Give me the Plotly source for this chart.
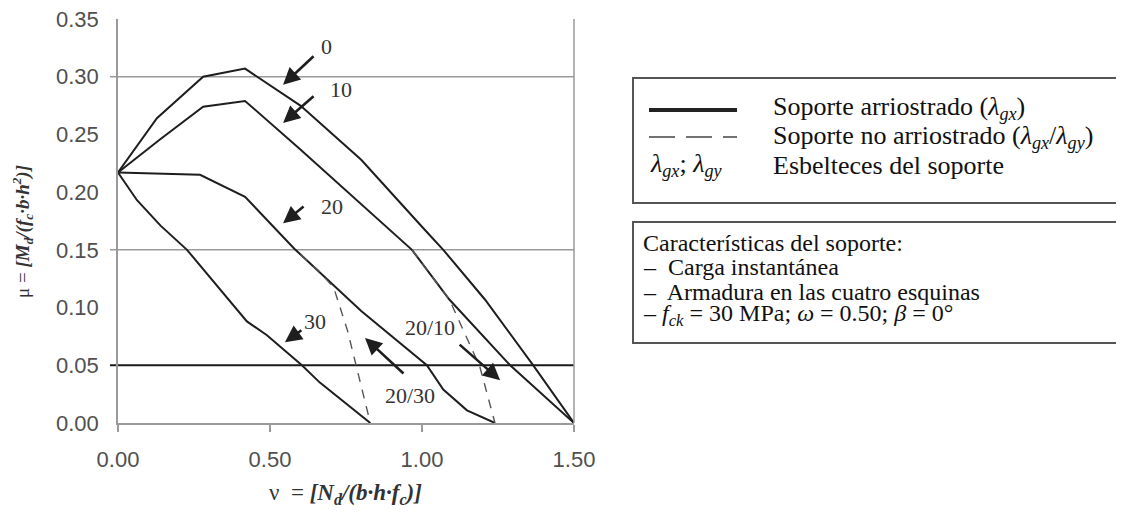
import plotly.graph_objects as go

# ---------------- data ----------------
x_lam0 = [0.0, 0.128, 0.28, 0.418, 0.6, 0.8, 1.0, 1.07, 1.207, 1.366, 1.5]
y_lam0 = [0.217, 0.264, 0.300, 0.307, 0.275, 0.228, 0.170, 0.150, 0.107, 0.050, 0.0]

x_lam10 = [0.0, 0.14, 0.28, 0.418, 0.6, 0.8, 0.967, 1.09, 1.29, 1.5]
y_lam10 = [0.217, 0.246, 0.274, 0.279, 0.237, 0.190, 0.150, 0.107, 0.050, 0.0]

x_lam20 = [0.0, 0.27, 0.418, 0.58, 0.8, 1.016, 1.07, 1.148, 1.24]
y_lam20 = [0.217, 0.215, 0.196, 0.151, 0.097, 0.050, 0.029, 0.011, 0.0]

x_lam30 = [0.0, 0.0625, 0.14, 0.227, 0.424, 0.49, 0.605, 0.664, 0.83]
y_lam30 = [0.217, 0.193, 0.171, 0.150, 0.088, 0.076, 0.050, 0.035, 0.0]

x_20_30 = [0.60, 0.66, 0.71, 0.755, 0.83]
y_20_30 = [0.146, 0.132, 0.117, 0.080, 0.0]

x_20_10 = [0.967, 1.09, 1.19, 1.24]
y_20_10 = [0.150, 0.107, 0.049, 0.0]

ref_levels = [0.30, 0.15, 0.05]

x_ticks = [0.0, 0.5, 1.0, 1.5]
x_ticklabels = ["0.00", "0.50", "1.00", "1.50"]
y_ticks = [0.0, 0.05, 0.10, 0.15, 0.20, 0.25, 0.30, 0.35]
y_ticklabels = ["0.00", "0.05", "0.10", "0.15", "0.20", "0.25", "0.30", "0.35"]

# ---------------- layout helpers ----------------
OFF = 8  # default page body margin
W, H = 1124 - OFF, 517 - 2 * OFF
L, R, T, B = 118 - OFF, 574 - OFF, 19 - OFF, 423 - OFF


def PX(px):
    return (px - OFF - L) / (R - L)


def PY(py):
    return (B - (py - OFF)) / (B - T)


solid = dict(color="#1e1e1e", width=2)
dashed = dict(color="#555555", width=1.4, dash="9px,8px")

fig = go.Figure()
for xs, ys in [(x_lam0, y_lam0), (x_lam10, y_lam10), (x_lam20, y_lam20), (x_lam30, y_lam30)]:
    fig.add_trace(go.Scatter(x=xs, y=ys, mode="lines", line=solid, showlegend=False, hoverinfo="skip"))
for xs, ys in [(x_20_30, y_20_30), (x_20_10, y_20_10)]:
    fig.add_trace(go.Scatter(x=xs, y=ys, mode="lines", line=dashed, showlegend=False, hoverinfo="skip"))

shapes = []
for lv in ref_levels:
    dark = abs(lv - 0.05) < 1e-9
    shapes.append(dict(type="line", xref="paper", yref="y", x0=-8 / (R - L), x1=1, y0=lv, y1=lv,
                       line=dict(color="#1a1a1a" if dark else "#9a9a9a", width=2 if dark else 1.5),
                       layer="below"))
# right border of plot area
shapes.append(dict(type="line", xref="paper", yref="paper", x0=1, x1=1, y0=0, y1=1,
                   line=dict(color="#9a9a9a", width=1.5)))

# legend boxes
shapes.append(dict(type="rect", xref="paper", yref="paper", x0=PX(633), x1=PX(1121), y0=PY(203), y1=PY(78),
                   line=dict(color="#555555", width=2)))
shapes.append(dict(type="rect", xref="paper", yref="paper", x0=PX(633), x1=PX(1121), y0=PY(343), y1=PY(222),
                   line=dict(color="#555555", width=2)))
shapes.append(dict(type="line", xref="paper", yref="paper", x0=PX(649), x1=PX(737), y0=PY(110), y1=PY(110),
                   line=dict(color="#222222", width=4)))
shapes.append(dict(type="line", xref="paper", yref="paper", x0=PX(649), x1=PX(737), y0=PY(137), y1=PY(137),
                   line=dict(color="#444444", width=1.5, dash="26px,11px")))

ann = []
# arrows: (head x, head y, ax, ay)
arrows = [
    (0.543, 0.293, 32, -30),
    (0.543, 0.260, 32, -28),
    (0.543, 0.173, 22, -18),
    (0.549, 0.070, 18, -13),
    (1.257, 0.037, -42, -37),
    (0.8125, 0.0737, 40, 37),
]
for hx, hy, ax, ay in arrows:
    ann.append(dict(x=hx, y=hy, xref="x", yref="y", ax=ax, ay=ay, text="", showarrow=True,
                    arrowhead=2, arrowsize=1.3, arrowwidth=2.6, arrowcolor="#1e1e1e", standoff=0))

lab_font = dict(family="Liberation Serif", size=22, color="#333333")
labels = [
    ("0", 326, 47),
    ("10", 341, 89),
    ("20", 332, 206),
    ("30", 315, 321),
    ("20/10", 430, 327),
    ("20/30", 410, 395),
]
for t, px, py in labels:
    ann.append(dict(x=PX(px), y=PY(py), xref="paper", yref="paper", text=t, showarrow=False,
                    font=lab_font, xanchor="center", yanchor="middle"))

# axis titles
ann.append(dict(x=PX(22), y=PY(232), xref="paper", yref="paper", textangle=-90, showarrow=False,
                text="μ = <b><i>[M<sub>d</sub>/(f<sub>c</sub>·b·h<sup>2</sup>)]</i></b>",
                font=dict(family="Liberation Serif", size=19, color="#333333"),
                xanchor="center", yanchor="middle"))
ann.append(dict(x=PX(345), y=PY(494), xref="paper", yref="paper", showarrow=False,
                text="ν  = <b><i>[N<sub>d</sub>/(b·h·f<sub>c</sub>)]</i></b>",
                font=dict(family="Liberation Serif", size=23, color="#333333"),
                xanchor="center", yanchor="middle"))

# legend texts
leg_font1 = dict(family="Liberation Serif", size=26, color="#111111")
leg_font2 = dict(family="Liberation Serif", size=24, color="#111111")
leg_rows = [
    ("Soporte arriostrado (<i>λ</i><sub><i>gx</i></sub>)", 772, 108, leg_font1),
    ("Soporte no arriostrado (<i>λ</i><sub><i>gx</i></sub>/<i>λ</i><sub><i>gy</i></sub>)", 772, 137, leg_font1),
    ("<i>λ</i><sub><i>gx</i></sub>; <i>λ</i><sub><i>gy</i></sub>", 649, 165, leg_font1),
    ("Esbelteces del soporte", 772, 165, leg_font1),
    ("Características del soporte:", 642, 243, leg_font2),
    ("–  Carga instantánea", 642, 267, leg_font2),
    ("–  Armadura en las cuatro esquinas", 642, 292, leg_font2),
    ("– <i>f</i><sub><i>ck</i></sub> = 30 MPa; <i>ω</i> = 0.50; <i>β</i> = 0°", 642, 315, leg_font2),
]
for t, px, py, f in leg_rows:
    ann.append(dict(x=PX(px), y=PY(py), xref="paper", yref="paper", text=t, showarrow=False,
                    font=f, xanchor="left", yanchor="middle", align="left", borderpad=0))

tick_font = dict(family="Liberation Sans", size=22, color="#505050")
fig.update_layout(
    width=W, height=H, autosize=False,
    margin=dict(l=L, r=W - R, t=T, b=H - B, pad=0, autoexpand=False),
    paper_bgcolor="white", plot_bgcolor="white",
    shapes=shapes, annotations=ann,
    xaxis=dict(range=[0, 1.5], tickvals=x_ticks, ticktext=x_ticklabels, showgrid=False, zeroline=False,
               showline=True, linecolor="#9a9a9a", linewidth=1.5, ticks="outside", ticklen=7,
               tickcolor="#9a9a9a", tickwidth=1.5, tickfont=tick_font, ticklabelstandoff=9,
               ticklabeloverflow="allow", automargin=False),
    yaxis=dict(range=[0, 0.35], tickvals=y_ticks, ticktext=y_ticklabels, showgrid=False, zeroline=False,
               showline=True, linecolor="#9a9a9a", linewidth=1.5, ticks="", tickfont=tick_font,
               ticklabelstandoff=13, ticklabeloverflow="allow", automargin=False),
    showlegend=False,
)

fig.write_html("out.html")
